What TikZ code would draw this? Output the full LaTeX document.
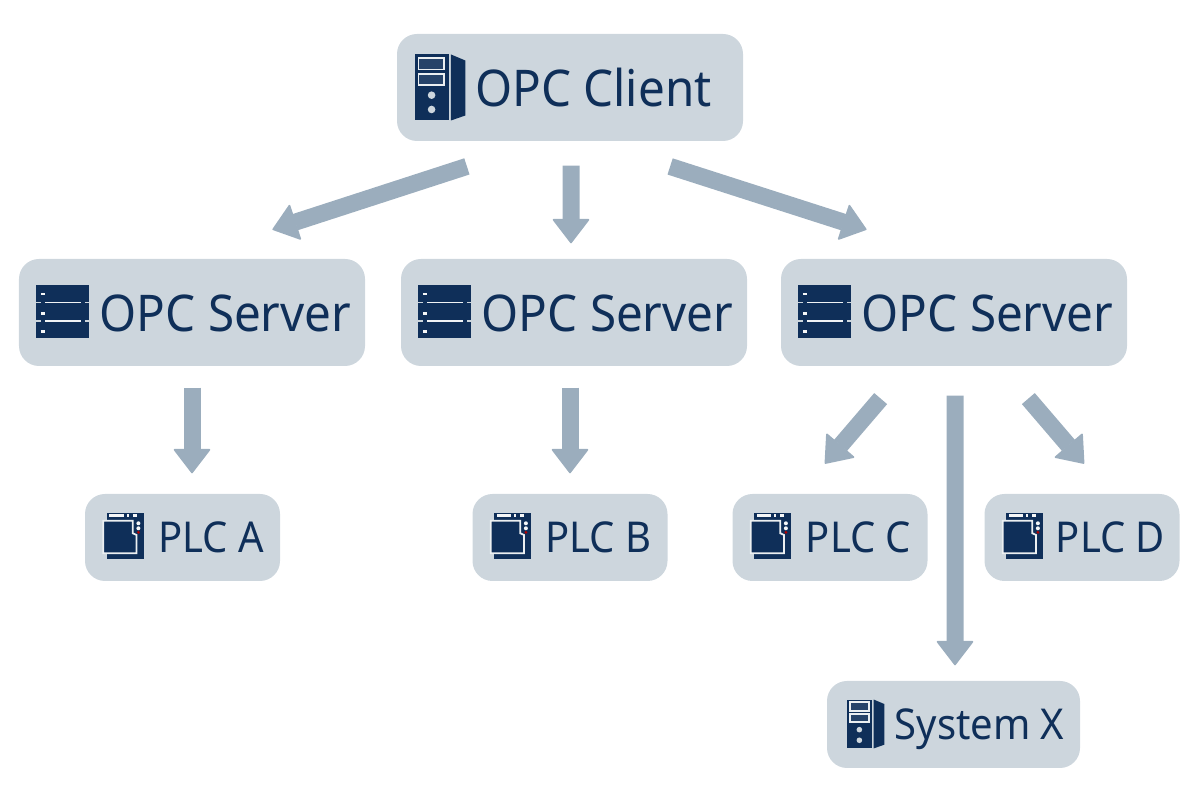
\documentclass[tikz,border=0pt]{standalone}
\usepackage{fontspec}
\setmainfont{Noto Sans}[FakeStretch=0.94]
\usetikzlibrary{arrows.meta, positioning, calc}
\definecolor{boxgray}{HTML}{CDD6DD}
\definecolor{flowgray}{HTML}{9BADBD}
\definecolor{navy}{HTML}{0F2F59}
\tikzset{
    box/.style={fill=boxgray, text=navy, rounded corners=0.2cm, inner sep=0pt, align=center, text depth=0pt},
    bigbox/.style={box, minimum width=3.46cm, minimum height=1.07cm, text height=0.39cm, font=\fontsize{14.4}{16}\selectfont},
    smallbox/.style={box, minimum width=1.95cm, minimum height=0.87cm, text height=0.31cm, font=\fontsize{12.1}{14}\selectfont},
    flow/.style={draw=flowgray, line width=0.17cm, -{Triangle[round, line width=0.5pt, length=0.25cm, width=0.38cm]}},
    tower/.pic={
        \fill[navy] (-.25,-.33) rectangle (.09,.33);
        \fill[navy] (.107,.33) -- (.25,.27) -- (.25,-.28) -- (.107,-.33) -- cycle;
        \filldraw[fill=navy!88!boxgray, draw=white!60!boxgray, line width=0.5pt] (-.217,.18) rectangle (.04,.297);
        \filldraw[fill=navy!88!boxgray, draw=white!60!boxgray, line width=0.5pt] (-.217,.023) rectangle (.04,.137);
        \fill[boxgray] (-.087,-.077) circle (.038);
        \fill[boxgray] (-.087,-.22) circle (.038);
    },
    rack/.pic={
        \fill[navy] (-.265,-.265) rectangle (.265,.265);
        \draw[white!70!boxgray, line width=0.55pt] (-.18,.09) -- (.18,.09);
        \draw[white!70!boxgray, line width=0.55pt] (-.18,-.095) -- (.18,-.095);
        \foreach \y in {.09,-.095} {
            \draw[boxgray, line width=0.55pt] (-.265,\y) -- (-.22,\y);
            \draw[boxgray, line width=0.55pt] (.22,\y) -- (.265,\y);
        }
        \foreach \y in {.175,-.02,-.2}
            \draw[white!80!boxgray, line width=0.8pt] (-.22,\y) -- (-.18,\y);
    },
    plc/.pic={
        \fill[navy] (-.17,-.23) rectangle (.2,.233);
        \draw[white!80!boxgray, line width=0.8pt] (-.145,.203) -- (0,.203);
        \draw[white!80!boxgray, line width=0.8pt] (.03,.203) -- (.05,.203);
        \draw[white!80!boxgray, line width=0.8pt] (.09,.203) -- (.13,.203);
        \filldraw[fill=navy, draw=white!60!boxgray, line width=0.5pt] (-.205,.153) -- (.09,.153) -- (.09,.027) -- (.128,.01) -- (.128,-.173) -- (-.205,-.173) -- cycle;
        \fill[white!80!boxgray] (.146,.127) circle (.02);
        \fill[white!80!boxgray] (.146,.077) circle (.02);
        \fill[red!70!black] (.146,.037) circle (.016);
    }
}
\begin{document}
\begin{tikzpicture}
    \useasboundingbox (0,0) rectangle (12,8);
    \node[bigbox] (client) at (5.70,7.125) {\hspace*{0.47cm}OPC Client};
    \node[bigbox] (serverA) at (1.92,4.875) {\hspace*{0.67cm}OPC Server};
    \node[bigbox] (serverB) at (5.74,4.875) {\hspace*{0.67cm}OPC Server};
    \node[bigbox] (serverC) at (9.54,4.875) {\hspace*{0.67cm}OPC Server};
    \node[smallbox] (plcA) at (1.825,2.625) {\hspace*{0.57cm}PLC A};
    \node[smallbox] (plcB) at (5.70,2.625) {\hspace*{0.57cm}PLC B};
    \node[smallbox] (plcC) at (8.30,2.625) {\hspace*{0.57cm}PLC C};
    \node[smallbox] (plcD) at (10.82,2.625) {\hspace*{0.57cm}PLC D};
    \node[smallbox, minimum width=2.53cm] (sysX) at (9.535,0.755) {\hspace*{0.52cm}System X};
    % icons
    \pic at ($(client.west)+(.44,0)$) {tower};
    \foreach \n in {serverA,serverB,serverC}
        \pic at ($(\n.west)+(.445,.01)$) {rack};
    \foreach \n in {plcA,plcB,plcC,plcD}
        \pic at ($(\n.west)+(.395,.015)$) {plc};
    \pic[scale=.74] at ($(sysX.west)+(.395,.005)$) {tower};
    % arrows
    \draw[flow, shorten <=0.80cm, shorten >=0.93cm] ($(client.south)+(-.27,0)$) -- ($(serverA.north)+(-.08,0)$);
    \draw[flow, shorten <=0.24cm, shorten >=0.15cm] ($(client.south)+(.01,0)$) -- ($(serverB.north)+(-.03,0)$);
    \draw[flow, shorten <=0.81cm, shorten >=0.94cm] ($(client.south)+(.23,0)$) -- ($(serverC.north)+(.02,0)$);
    \draw[flow, shorten <=0.21cm, shorten >=0.2cm] (serverA.south) -- (serverA.south |- plcA.north);
    \draw[flow, shorten <=0.21cm, shorten >=0.2cm] (serverB.south -| plcB.north) -- (plcB.north);
    \draw[flow, shorten <=0.42cm, shorten >=0.39cm] ($(serverC.south)+(-.46,0)$) -- ($(plcC.north)+(-.305,0)$);
    \draw[flow, shorten <=0.42cm, shorten >=0.39cm] ($(serverC.south)+(.47,0)$) -- ($(plcD.north)+(.275,0)$);
    \draw[flow, shorten <=0.29cm, shorten >=0.15cm] ($(serverC.south)+(.01,0)$) -- ($(sysX.north)+(.015,0)$);
\end{tikzpicture}
\end{document}
